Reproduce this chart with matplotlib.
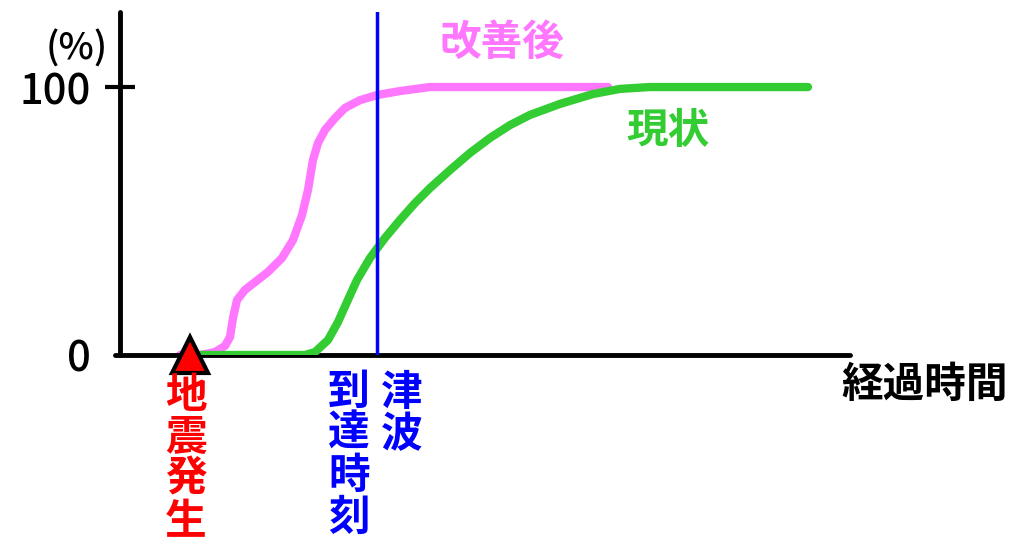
"""Evacuation completion curve: current state vs improved, with quake and tsunami arrival."""

import matplotlib

matplotlib.use("Agg")
import matplotlib.pyplot as plt

plt.rcParams["font.family"] = ["Noto Sans CJK JP", "DejaVu Sans"]

# elapsed time (arbitrary units) and evacuation completion rate (%)
improved_t = [6.0, 8.0, 9.5, 10.5, 11.0, 11.3, 11.7, 12.5, 13.5, 14.8, 16.2, 17.3,
              18.2, 18.8, 19.3, 19.8, 20.5, 21.5, 22.5, 24.0, 25.7, 28.0, 31.0, 48.8]
improved_pct = [0, 0, 1.1, 3.4, 6.7, 13.8, 20.5, 24.3, 27.2, 31.0, 36.2, 42.9,
                52.2, 61.6, 72.8, 79.1, 84.0, 88.4, 92.2, 95.1, 97.0, 98.5, 100, 100]

current_t = [7.0, 18.5, 19.5, 20.8, 21.8, 22.7, 23.7, 25.0, 26.5, 28.0, 29.5, 31.0,
             33.0, 35.0, 37.0, 39.0, 41.0, 44.0, 47.3, 50.0, 53.0, 68.8]
current_pct = [0, 0, 1.1, 5.6, 12.3, 19.8, 28.0, 36.2, 43.7, 50.4, 56.7, 62.3,
               69.0, 75.4, 81.0, 85.8, 89.6, 93.7, 97.4, 99.3, 100, 100]

quake_t = 7.0
tsunami_t = 25.7
y_ticks = [0, 100]
y_tick_labels = ["0", "100"]

W, H = 1015, 544
fig = plt.figure(figsize=(W / 100, H / 100), dpi=100)
ax = fig.add_axes([120 / W, (H - 355) / H, 730 / W, 343 / H])
ax.set_xlim(0, 73)
ax.set_ylim(0, 128)

for side in ("top", "right"):
    ax.spines[side].set_visible(False)
for side in ("left", "bottom"):
    ax.spines[side].set_linewidth(3.5)
    ax.spines[side].set_capstyle("round")
ax.spines["bottom"].set_bounds(-0.5, 73)

ax.set_xticks([])
ax.set_yticks(y_ticks)
ax.set_yticklabels(y_tick_labels, fontsize=30, fontweight="medium")
ax.tick_params(axis="y", direction="inout", length=22, width=3, pad=10)
ax.yaxis.get_major_ticks()[0].tick1line.set_visible(False)

ax.plot(current_t, current_pct, color="#33cc33", lw=6, solid_capstyle="round",
        solid_joinstyle="round", zorder=3)
ax.plot(improved_t, improved_pct, color="#ff77ff", lw=6, solid_capstyle="round",
        solid_joinstyle="round", zorder=2)
ax.axvline(tsunami_t, color="#0000ff", lw=2.5, zorder=4)
ax.plot([quake_t], [0], marker="^", markersize=26, color="red", mec="black",
        mew=3, clip_on=False, zorder=5)


def px_text(x, y, s, color="black", size=30, weight="bold"):
    fig.text(x / W, 1 - y / H, s, color=color, fontsize=size, fontweight=weight,
             ha="center", va="center")


def vertical_text(x, y0, s, color, pitch=42):
    for i, ch in enumerate(s):
        px_text(x, y0 + i * pitch, ch, color)


px_text(77, 49, "(%)", size=27, weight="medium")
px_text(502, 43, "改善後", "#ff77ff")
px_text(668, 131, "現状", "#33cc33")
px_text(925, 385, "経過時間")
vertical_text(186, 396, "地震発生", "red")
vertical_text(349, 392, "到達時刻", "#0000ff")
vertical_text(402, 393, "津波", "#0000ff")

fig.savefig("out.png", dpi=100)
